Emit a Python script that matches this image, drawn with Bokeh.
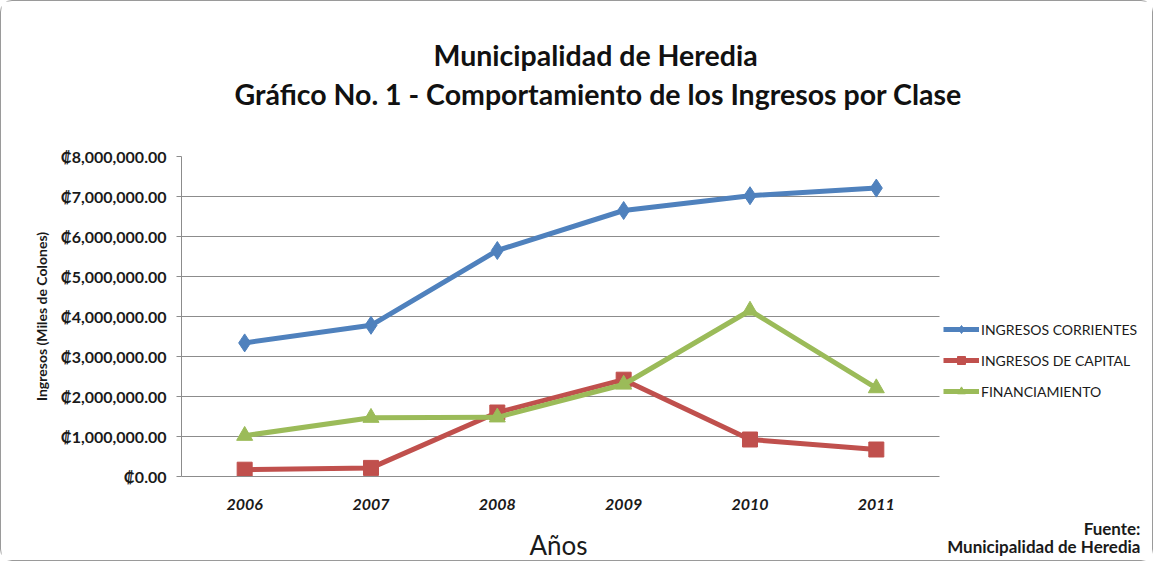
from bokeh.plotting import figure
from bokeh.models import Legend, LegendItem, FixedTicker, Range1d, Title
from bokeh.embed import file_html
from bokeh.resources import INLINE

years = ["2006", "2007", "2008", "2009", "2010", "2011"]
corrientes = [3340000, 3780000, 5650000, 6650000, 7020000, 7210000]
capital = [170000, 215000, 1600000, 2420000, 925000, 675000]
financiamiento = [1020000, 1470000, 1480000, 2300000, 4150000, 2210000]
y_ticks = [0, 1000000, 2000000, 3000000, 4000000, 5000000, 6000000, 7000000, 8000000]
y_tick_labels = ["₡0.00", "₡1,000,000.00", "₡2,000,000.00", "₡3,000,000.00",
                 "₡4,000,000.00", "₡5,000,000.00", "₡6,000,000.00",
                 "₡7,000,000.00", "₡8,000,000.00"]
series_names = ["INGRESOS CORRIENTES", "INGRESOS DE CAPITAL", "FINANCIAMIENTO"]

FONT = "Lato"
x_pos = list(range(len(years)))          # category slots 0..5
x_lo, x_hi = -0.5, len(years) - 0.5      # plotting band of the categories

p = figure(x_range=Range1d(x_lo, 7.202), y_range=Range1d(0, 8000000),
           width=1153, height=561, output_backend="svg", toolbar_location=None,
           min_border_left=180, min_border_right=0, min_border_top=155,
           min_border_bottom=86)
p.styles = {"border": "1px solid #9a9a9a", "border-radius": "12px"}
p.outline_line_color = None
p.background_fill_color = "white"
p.border_fill_color = "white"

p.xgrid.grid_line_color = None
p.ygrid.grid_line_color = "#8c8c8c"
p.ygrid.grid_line_width = 1
p.ygrid.cross_bounds = (x_lo, x_hi)

p.yaxis.ticker = FixedTicker(ticks=y_ticks)
p.yaxis.major_label_overrides = {t: l for t, l in zip(y_ticks, y_tick_labels)}
p.yaxis.minor_tick_line_color = None
p.yaxis.axis_line_color = "#8c8c8c"
p.yaxis.major_tick_line_color = "#8c8c8c"
p.yaxis.major_tick_out = 5
p.yaxis.major_tick_in = 0
p.yaxis.major_label_standoff = 10
p.yaxis.major_label_text_font = FONT
p.yaxis.major_label_text_font_size = "16px"
p.yaxis.major_label_text_font_style = "bold"
p.yaxis.major_label_text_color = "#1a1a1a"
p.yaxis.axis_label = "Ingresos (Miles de Colones)"
p.yaxis.axis_label_text_font = FONT
p.yaxis.axis_label_text_font_size = "14px"
p.yaxis.axis_label_text_font_style = "bold"
p.yaxis.axis_label_text_color = "#1a1a1a"
p.yaxis.axis_label_standoff = 8

p.xaxis.ticker = FixedTicker(ticks=x_pos)
p.xaxis.major_label_overrides = {i: y for i, y in zip(x_pos, years)}
p.xaxis.bounds = (x_lo, x_hi)
p.xaxis.minor_tick_line_color = None
p.xaxis.axis_line_color = "#8c8c8c"
p.xaxis.major_tick_line_color = None
p.xaxis.major_tick_out = 0
p.xaxis.major_tick_in = 0
p.xaxis.major_label_standoff = 22
p.xaxis.major_label_text_font = FONT
p.xaxis.major_label_text_font_size = "16px"
p.xaxis.major_label_text_font_style = "bold italic"
p.xaxis.major_label_text_color = "#1a1a1a"

colors = ["#4F81BD", "#C0504D", "#9BBB59"]
markers = ["diamond", "square", "triangle"]
sizes = [18, 15, 16]
data = [corrientes, capital, financiamiento]
items = []
for name, vals, c, m, s in zip(series_names, data, colors, markers, sizes):
    l = p.line(x_pos, vals, line_color=c, line_width=5)
    sc = p.scatter(x_pos, vals, marker=m, size=s, fill_color=c, line_color=c)
    items.append(LegendItem(label=name, renderers=[l, sc]))

legend = Legend(items=items, location=(762, 75), glyph_width=36, glyph_height=20,
                label_text_font=FONT, label_text_font_size="14px",
                label_text_color="#1a1a1a", spacing=11, padding=0, margin=0,
                label_standoff=2, border_line_color=None, background_fill_alpha=0)
p.add_layout(legend, "center")

# titles (above the frame)
p.add_layout(Title(text="Gráfico No. 1 - Comportamiento de los Ingresos por Clase",
                   align="left", offset=53, standoff=91, vertical_align="bottom",
                   text_font=FONT, text_font_size="28.5px", text_font_style="bold",
                   text_color="#111111"), "above")
p.add_layout(Title(text="Municipalidad de Heredia",
                   align="left", offset=252, standoff=-84, vertical_align="bottom",
                   text_font=FONT, text_font_size="28.5px", text_font_style="bold",
                   text_color="#111111"), "above")

# texts below the frame
p.add_layout(Title(text="Fuente:", align="right", offset=14, standoff=10.6,
                   vertical_align="top", text_font=FONT, text_font_size="17px",
                   text_font_style="bold", text_color="#1a1a1a"), "below")
p.add_layout(Title(text="Municipalidad de Heredia", align="right", offset=14,
                   standoff=-21.4, vertical_align="top", text_font=FONT,
                   text_font_size="17px", text_font_style="bold",
                   text_color="#1a1a1a"), "below")
p.add_layout(Title(text="Años", align="left", offset=348, standoff=-38.8,
                   vertical_align="top", text_font=FONT, text_font_size="26px",
                   text_font_style="normal", text_color="#1a1a1a"), "below")

open("out.html", "w").write(file_html(p, INLINE))
